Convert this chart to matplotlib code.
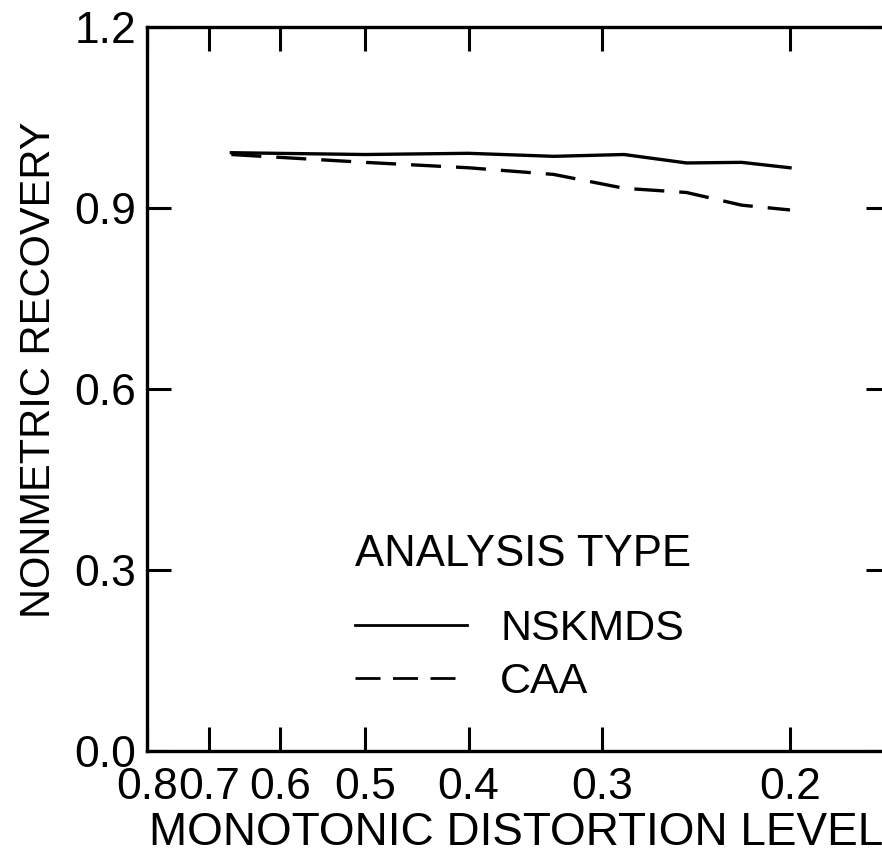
import matplotlib
matplotlib.use("Agg")
import matplotlib.pyplot as plt
from matplotlib.ticker import FixedLocator, FixedFormatter, NullLocator

# -----------------------------
# Data
# -----------------------------
distortion_levels = [0.667, 0.5, 0.4, 0.333, 0.286, 0.25, 0.222, 0.2]
nskmds_recovery = [0.992, 0.989, 0.991, 0.986, 0.989, 0.975, 0.976, 0.967]
caa_recovery = [0.989, 0.976, 0.967, 0.956, 0.933, 0.926, 0.905, 0.897]

x_ticks = [0.8, 0.7, 0.6, 0.5, 0.4, 0.3, 0.2]
x_tick_labels = ["0.8", "0.7", "0.6", "0.5", "0.4", "0.3", "0.2"]
y_ticks = [0.0, 0.3, 0.6, 0.9, 1.2]
y_tick_labels = ["0.0", "0.3", "0.6", "0.9", "1.2"]

plt.rcParams["font.family"] = ["Liberation Sans", "DejaVu Sans"]

fig = plt.figure(figsize=(8.82, 8.65), dpi=100)
ax = fig.add_axes([0.1667, 0.1322, 0.8424, 0.8362])

ax.plot(distortion_levels, nskmds_recovery, color="black", lw=2.4,
        label="NSKMDS")
ax.plot(distortion_levels, caa_recovery, color="black", lw=2.4,
        dashes=(9, 4.5), label="CAA")

ax.set_xscale("log")
ax.set_xlim(0.8, 0.1612)
ax.set_ylim(0.0, 1.2)

ax.xaxis.set_major_locator(FixedLocator(x_ticks))
ax.xaxis.set_major_formatter(FixedFormatter(x_tick_labels))
ax.xaxis.set_minor_locator(NullLocator())
ax.yaxis.set_major_locator(FixedLocator(y_ticks))
ax.yaxis.set_major_formatter(FixedFormatter(y_tick_labels))

ax.tick_params(axis="both", which="major", direction="in", length=17,
               width=2.2, top=True, right=True, labelsize=32, pad=8,
               colors="black")
ax.tick_params(axis="x", pad=12)

for spine in ax.spines.values():
    spine.set_linewidth(2.4)

ax.set_xlabel("MONOTONIC DISTORTION LEVEL", fontsize=33)
ax.set_ylabel("NONMETRIC RECOVERY", fontsize=30)
ax.xaxis.set_label_coords(0.497, -0.084)
ax.yaxis.set_label_coords(-0.118, 0.527)

# legend title drawn as plain text so the gap under it matches
ax.text(0.280, 0.271, "ANALYSIS TYPE", transform=ax.transAxes,
        fontsize=31.5, ha="left", va="center")
leg = ax.legend(loc="center left", bbox_to_anchor=(0.280, 0.131),
                frameon=False, fontsize=31, handlelength=2.6,
                handletextpad=0.77, labelspacing=0.3,
                borderpad=0, borderaxespad=0)
for line in leg.get_lines():
    line.set_linewidth(2.0)

fig.savefig("out.png", dpi=100)
